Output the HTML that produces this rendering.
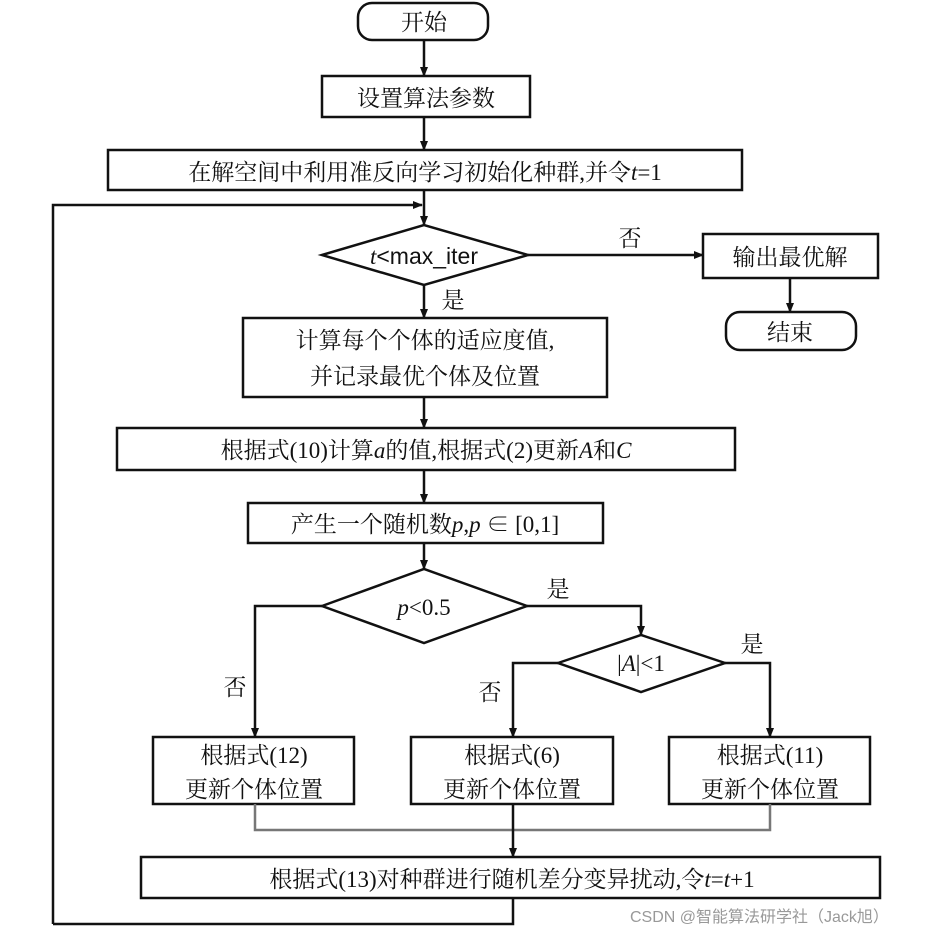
<!DOCTYPE html>
<html><head><meta charset="utf-8"><style>
body{margin:0;background:#fff}
svg{display:block}
text{font-family:"Liberation Serif","Noto Serif CJK SC",serif;font-size:23px;fill:#111}
</style></head><body>
<svg width="943" height="936" viewBox="0 0 943 936" xmlns="http://www.w3.org/2000/svg">
<defs><marker id="a" markerWidth="10" markerHeight="10" refX="9" refY="5" orient="auto" markerUnits="userSpaceOnUse"><path d="M0,1 L10,5 L0,9 z" fill="#111"/></marker></defs>
<g stroke="#111" stroke-width="2.5" fill="none">
<rect x="358" y="3" width="130" height="37" rx="14"/>
<rect x="322" y="76" width="208" height="41"/>
<rect x="108" y="150" width="634" height="40"/>
<polygon points="322,255 424,225 528,255 424,285"/>
<rect x="703" y="234" width="175" height="44"/>
<rect x="726" y="312" width="130" height="38" rx="14"/>
<rect x="243" y="318" width="364" height="79"/>
<rect x="117" y="428" width="618" height="42"/>
<rect x="248" y="503" width="355" height="40"/>
<polygon points="322,606 424,569 527,606 424,643"/>
<polygon points="558,663 641,635 725,663 641,692"/>
<rect x="153" y="737" width="201" height="67"/>
<rect x="411" y="737" width="202" height="67"/>
<rect x="669" y="737" width="201" height="67"/>
<rect x="141" y="857" width="739" height="41"/>
<path d="M424 40V76" marker-end="url(#a)"/>
<path d="M424 117V150" marker-end="url(#a)"/>
<path d="M424 190V225" marker-end="url(#a)"/>
<path d="M53 924V205H422" marker-end="url(#a)"/>
<path d="M528 255H703" marker-end="url(#a)"/>
<path d="M790 278V312" marker-end="url(#a)"/>
<path d="M424 285V318" marker-end="url(#a)"/>
<path d="M424 397V428" marker-end="url(#a)"/>
<path d="M424 470V503" marker-end="url(#a)"/>
<path d="M424 543V569" marker-end="url(#a)"/>
<path d="M322 606H255V737" marker-end="url(#a)"/>
<path d="M527 606H641V635" marker-end="url(#a)"/>
<path d="M558 663H513V737" marker-end="url(#a)"/>
<path d="M725 663H770V737" marker-end="url(#a)"/>
<path d="M255 804V830H770V804" stroke="#777"/>
<path d="M513 804V857" marker-end="url(#a)"/>
<path d="M513 898V924H53"/>
</g>
<g text-anchor="middle">
<text x="424" y="30">开始</text>
<text x="426" y="106">设置算法参数</text>
<text x="425" y="180">在解空间中利用准反向学习初始化种群,并令<tspan font-style="italic">t</tspan>=1</text>
<text x="424" y="264" font-size="21"><tspan font-style="italic">t</tspan><tspan font-family="Liberation Sans,sans-serif">&lt;max_iter</tspan></text>
<text x="630" y="246">否</text>
<text x="790" y="265">输出最优解</text>
<text x="790" y="340">结束</text>
<text x="453" y="308">是</text>
<text x="425" y="348">计算每个个体的适应度值,</text>
<text x="425" y="384">并记录最优个体及位置</text>
<text x="426" y="458">根据式(10)计算<tspan font-style="italic">a</tspan>的值,根据式(2)更新<tspan font-style="italic">A</tspan>和<tspan font-style="italic">C</tspan></text>
<text x="425" y="532">产生一个随机数<tspan font-style="italic">p</tspan>,<tspan font-style="italic">p</tspan> ∈ [0,1]</text>
<text x="424" y="615"><tspan font-style="italic">p</tspan>&lt;0.5</text>
<text x="558" y="597">是</text>
<text x="641" y="671">|<tspan font-style="italic">A</tspan>|&lt;1</text>
<text x="752" y="652">是</text>
<text x="235" y="695">否</text>
<text x="490" y="700">否</text>
<text x="254" y="763">根据式(12)</text>
<text x="254" y="797">更新个体位置</text>
<text x="512" y="763">根据式(6)</text>
<text x="512" y="797">更新个体位置</text>
<text x="770" y="763">根据式(11)</text>
<text x="770" y="797">更新个体位置</text>
<text x="512" y="887">根据式(13)对种群进行随机差分变异扰动,令<tspan font-style="italic">t</tspan>=<tspan font-style="italic">t</tspan>+1</text>
</g>
<text x="630" y="922" font-family="Liberation Sans,Noto Sans CJK SC,sans-serif" font-size="16" style="fill:#999;font-family:'Liberation Sans','Noto Sans CJK SC',sans-serif;font-size:16px">CSDN @智能算法研学社（Jack旭）</text>
</svg>
</body></html>
